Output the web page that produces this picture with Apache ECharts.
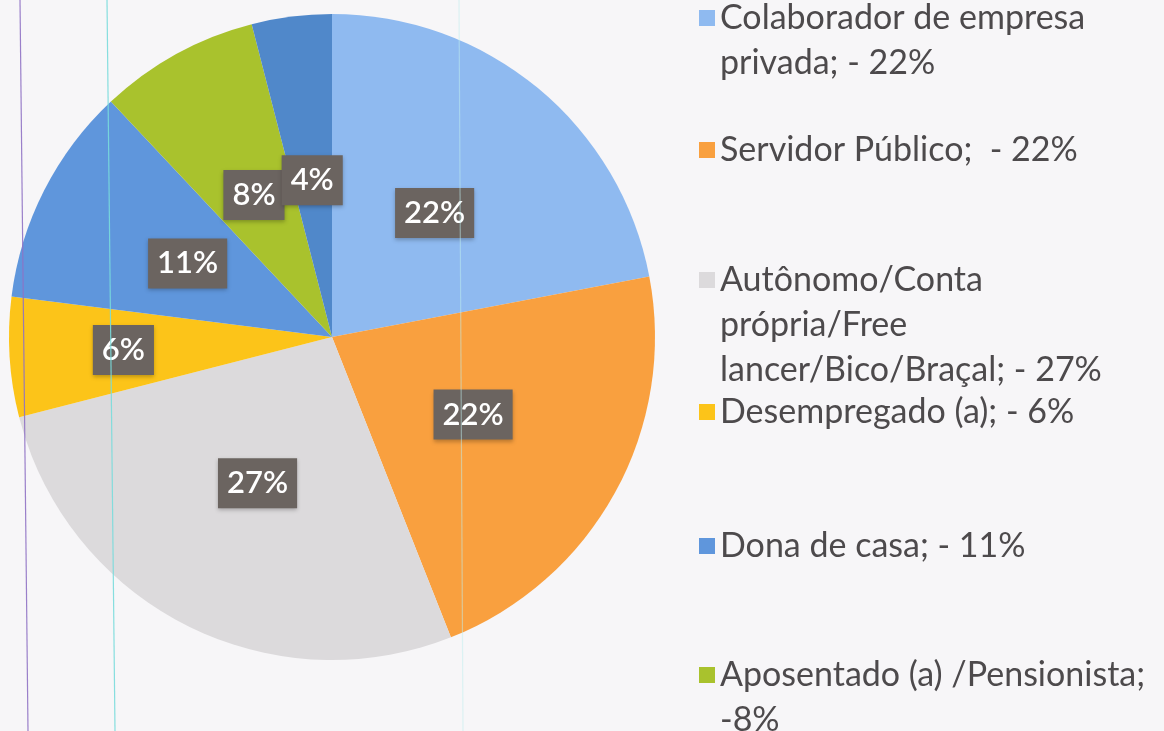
<!DOCTYPE html>
<html>
<head>
<meta charset="utf-8">
<script src="https://cdn.jsdelivr.net/npm/echarts@6/dist/echarts.min.js"></script>
<style>
  html, body { margin: 0; padding: 0; background: #f7f6f8; }
  #chart { width: 1164px; height: 731px; }
</style>
</head>
<body>
<div id="chart"></div>
<script>
  // categorias e valores (%)
  const categories = [
    'Colaborador de empresa privada',
    'Servidor Público',
    'Autônomo/Conta própria/Free lancer/Bico/Braçal',
    'Desempregado (a)',
    'Dona de casa',
    'Aposentado (a) /Pensionista',
    'Outros'
  ]
  const values = [22, 22, 27, 6, 11, 8, 4]
  // texto da legenda (como no original, quebrado em linhas)
  const legendLabels = [
    'Colaborador de empresa\nprivada; - 22%',
    'Servidor Público;  - 22%',
    'Autônomo/Conta\nprópria/Free\nlancer/Bico/Braçal; - 27%',
    'Desempregado (a); - 6%',
    'Dona de casa; - 11%',
    'Aposentado (a) /Pensionista;\n-8%'
  ]

  const colors = ['#8fbaf0', '#f9a03f', '#dcdadc', '#fcc419', '#5f96dc', '#a9c22d', '#5088ca']
  const labelRadius = [161, 161, 164, 209, 162, 162, 158]
  const legendLineHeight = 45
  const legendFirstLine = [18, 150, 280, 412, 546, 675] // centro da 1a linha de cada item
  const font = 'Lato'

  const chart = echarts.init(document.getElementById('chart'), null, { renderer: 'canvas' })

  // quadradinho no alto da caixa, para ficar na 1a linha do texto
  function legendIcon(n) {
    const lh = legendLineHeight
    const h = n * lh
    const y = lh / 2 - 8
    return 'path://M0,0L0.01,0M0,' + y + 'h16v16h-16zM0,' + h + 'L0.01,' + h
  }

  const legends = legendLabels.map(function(text, i) {
    const n = text.split('\n').length
    return {
      data: [categories[i]],
      formatter: function() { return text },
      orient: 'vertical',
      left: 699,
      top: legendFirstLine[i] - legendLineHeight / 2,
      padding: 0,
      icon: legendIcon(n),
      itemWidth: 16,
      itemHeight: n * legendLineHeight,
      selectedMode: false,
      textStyle: {
        fontFamily: font,
        fontSize: 34,
        color: '#4d4a4c',
        lineHeight: legendLineHeight
      }
    }
  })

  // posicao dos rotulos: a partir do angulo medio de cada fatia
  const total = values.reduce(function(a, b) { return a + b }, 0)
  let acc = 0
  const pieData = categories.map(function(name, i) {
    const mid = (acc + values[i] / 2) / total * Math.PI * 2
    acc += values[i]
    const r = labelRadius[i]
    return {
      name: name,
      value: values[i],
      label: { offset: [r * Math.sin(mid), -r * Math.cos(mid)] }
    }
  })

  // riscos verticais do papel digitalizado
  const paperLines = [
    { x1: 20, x2: 28, color: '#8f72c4', opacity: 0.9 },
    { x1: 107, x2: 115, color: '#79dcdc', opacity: 0.9 },
    { x1: 459, x2: 463, color: '#bfeeee', opacity: 0.5 }
  ]

  chart.setOption({
    backgroundColor: '#f7f6f8',
    animation: false,
    color: colors,
    legend: legends,
    series: [{
      type: 'pie',
      center: [332, 337],
      radius: 323,
      startAngle: 90,
      clockwise: true,
      silent: true,
      avoidLabelOverlap: false,
      labelLayout: { hideOverlap: false },
      itemStyle: { borderWidth: 0 },
      label: {
        show: true,
        position: 'center',
        formatter: '{c}%',
        fontFamily: font,
        fontSize: 31,
        fontWeight: 600,
        color: '#ffffff',
        backgroundColor: '#6b6460',
        padding: [11, 9, 8, 9],
        shadowColor: 'rgba(0,0,0,0.25)',
        shadowBlur: 4,
        shadowOffsetY: 2
      },
      labelLine: { show: false },
      data: pieData
    }],
    graphic: paperLines.map(function(l) {
      return {
        type: 'line',
        z: 100,
        silent: true,
        shape: { x1: l.x1, y1: 0, x2: l.x2, y2: 731 },
        style: { stroke: l.color, lineWidth: 1.2, opacity: l.opacity }
      }
    })
  })
</script>
</body>
</html>
